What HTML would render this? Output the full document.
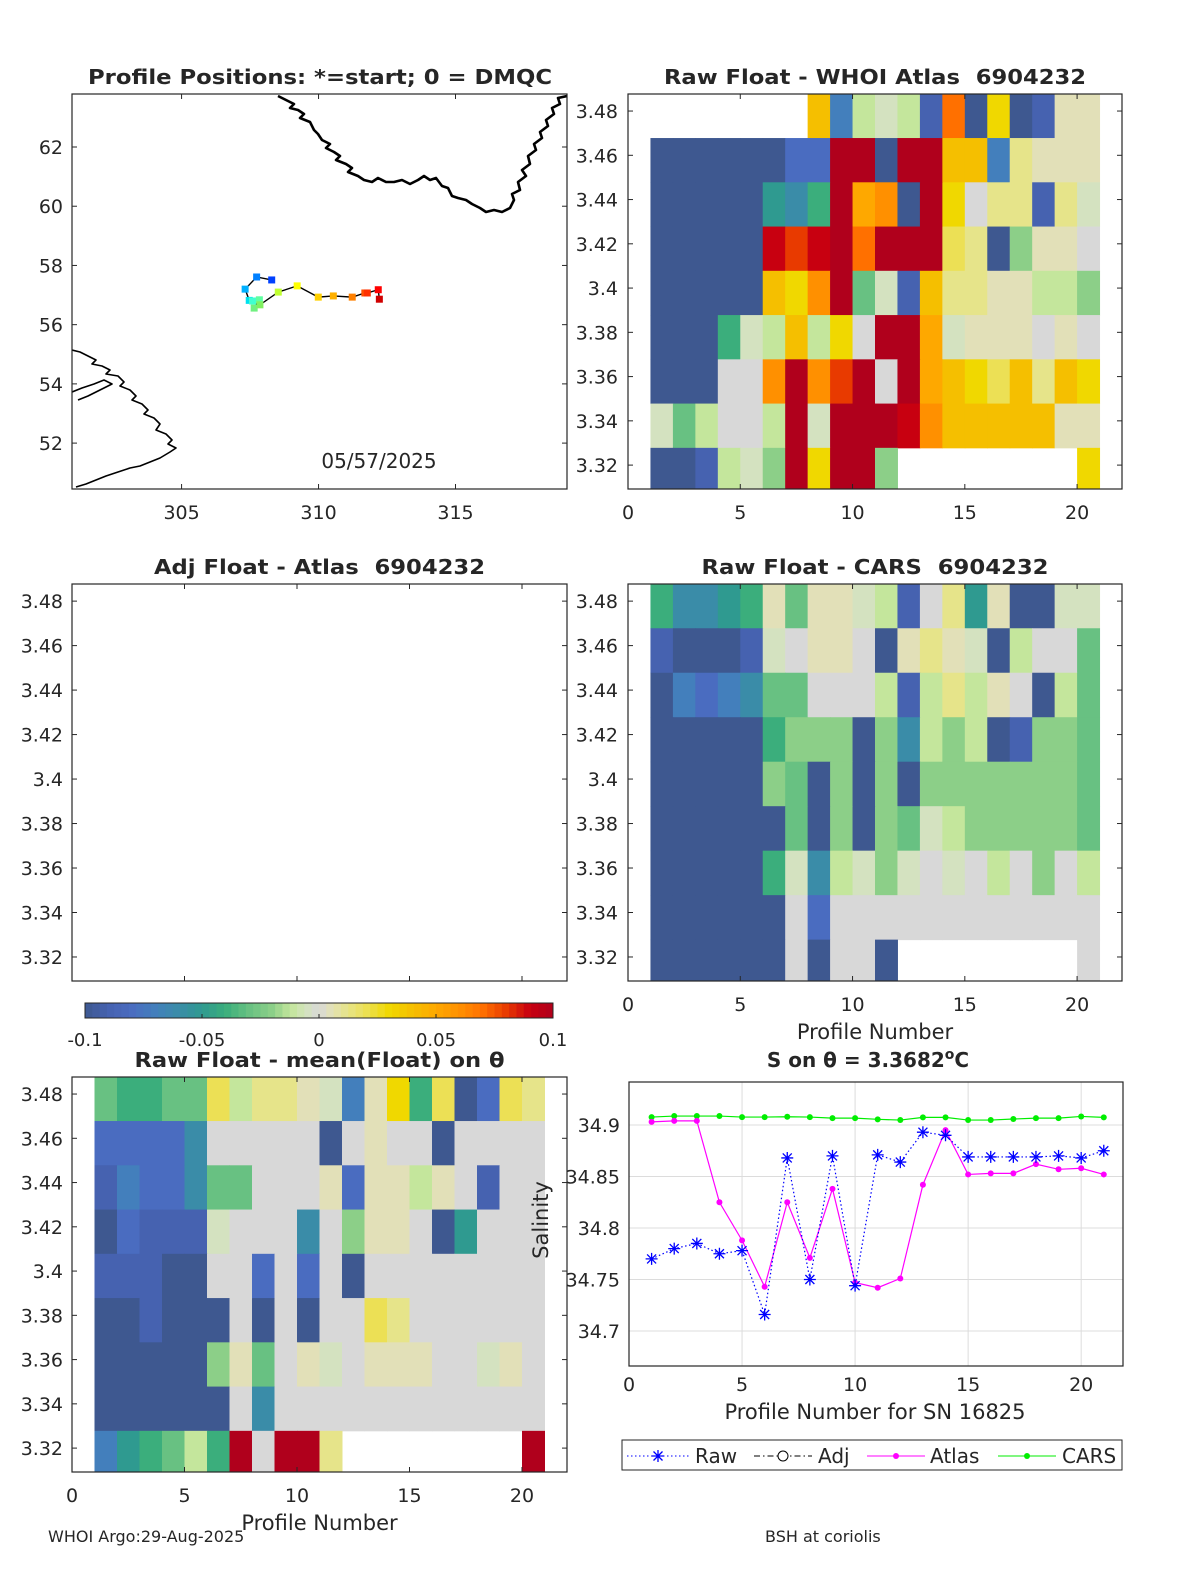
<!DOCTYPE html>
<html><head><meta charset="utf-8"><style>
html,body{margin:0;padding:0;background:#fff;}
svg{display:block;font-family:"DejaVu Sans","Liberation Sans",sans-serif;}
</style></head><body>
<svg id="fig" width="1200" height="1575" viewBox="0 0 1200 1575" xmlns="http://www.w3.org/2000/svg">
<rect x="0" y="0" width="1200" height="1575" fill="#fff"/>
</svg>
<script>
// ---------- DATA ----------
const profileNums = [1,2,3,4,5,6,7,8,9,10,11,12,13,14,15,16,17,18,19,20,21];
const rawSal = [34.770,34.780,34.785,34.775,34.778,34.716,34.868,34.750,34.870,34.744,34.871,34.864,34.893,34.890,34.869,34.869,34.869,34.869,34.870,34.868,34.875];
const atlasSal = [34.903,34.904,34.904,34.825,34.788,34.743,34.825,34.771,34.838,34.747,34.742,34.751,34.842,34.895,34.852,34.853,34.853,34.862,34.857,34.858,34.852];
const carsSal = [34.9077,34.9087,34.9087,34.9087,34.9077,34.9077,34.908,34.9077,34.9067,34.9067,34.9055,34.9048,34.9074,34.9074,34.9048,34.9048,34.9058,34.9067,34.9067,34.9083,34.9074];
const salTicks = [34.7,34.75,34.8,34.85,34.9];
const salTickLabels = ["34.7","34.75","34.8","34.85","34.9"];
const profTicks = [0,5,10,15,20];
const thetaTicks = [3.32,3.34,3.36,3.38,3.40,3.42,3.44,3.46,3.48];
const thetaTickLabels = ["3.32","3.34","3.36","3.38","3.4","3.42","3.44","3.46","3.48"];
const thetaLevels = [3.4778,3.4578,3.4378,3.4178,3.3978,3.3778,3.3578,3.3378,3.3178];
const cbTicks = [-0.1,-0.05,0,0.05,0.1];
const cbTickLabels = ["-0.1","-0.05","0","0.05","0.1"];
// cell codes: A=-0.1 ... L=0 ... W=0.1, '.'=NaN
const codeVals = {A:-0.1,B:-0.09,C:-0.08,D:-0.07,E:-0.06,F:-0.05,G:-0.04,H:-0.03,I:-0.02,J:-0.012,K:-0.005,L:0,M:0.005,N:0.012,O:0.02,P:0.03,Q:0.04,R:0.05,S:0.06,T:0.07,U:0.08,V:0.09,W:0.1};
const atlasRows = [
".......QDJKJBTAPABMM",
"AAAAAACCWWAWWQQDNMMM",
"AAAAAFEGWRSAWPLNNBNK",
"AAAAAVUVWTWWWONAIMML",
"AAAAAQPSWHKBQNNMMJJI",
"AAAGKJQJPLWWRKMMMLML",
"AAALLSWSUWLWRQPOQNQP",
"KHJLLJWKWWWVSQQQQQMM",
"AABJKIWPWWI........P"];
const carsRows = [
"GEEFGMHMMKJBLNFMAAKK",
"BAAABKLMMLAMNMKAJLLH",
"ADCDEHHLLLJBJNJMLAJH",
"AAAAAGIIIAIEJIJABIIH",
"AAAAAIHAIAIAIIIIIIIH",
"AAAAAAHAIAIHKJIIIIIH",
"AAAAAGKEJKIKLKLJLILJ",
"AAAAAALCLLLLLLLLLLLL",
"AAAAAALALLA........L"];
const meanRows = [
"HGGHHOJNNMKDMPGOACON",
"CCCCELLLLLALMLLALLLL",
"BDCCEHHLLLMCMMJMLBLL",
"ACBBBKLLLELIMMLAFLLL",
"BBBAALLCLCLALLLLLLLL",
"AABAAALALALLONLLLLLL",
"AAAAAIMHLMKLMMMLLKML",
"AAAAAALELLLLLLLLLLLL",
"DFGHJGWLWWN........W"];
const trackLon = [308.29,307.74,307.32,307.47,307.59,307.84,307.65,307.86,308.53,309.22,309.99,310.54,311.23,311.69,311.78,312.18,312.22];
const trackLat = [57.51,57.61,57.20,56.82,56.80,56.84,56.56,56.67,57.10,57.31,56.93,56.97,56.93,57.07,57.07,57.18,56.86];
const lonTicks = [305,310,315];
const latTicks = [52,54,56,58,60,62];

// ---------- HELPERS ----------
const NS='http://www.w3.org/2000/svg';
const svg=document.getElementById('fig');
function mk(tag,attrs,parent){const e=document.createElementNS(NS,tag);for(const k in attrs)e.setAttribute(k,attrs[k]);(parent||svg).appendChild(e);return e;}
function txt(s,x,y,size,anchor,weight,parent){const t=mk('text',{x:x,y:y,'font-size':size,'text-anchor':anchor||'middle','font-weight':weight||'normal',fill:'#262626'},parent);t.textContent=s;return t;}
function decode(rows){return rows.map(r=>r.split('').map(ch=>ch==='.'?NaN:codeVals[ch]));}
const stops=[[-0.1,[62,88,144]],[-0.09,[70,98,176]],[-0.08,[74,108,192]],[-0.07,[67,127,188]],[-0.06,[58,140,168]],[-0.05,[47,154,144]],[-0.04,[59,174,124]],[-0.03,[104,193,130]],[-0.02,[140,207,136]],[-0.012,[196,230,156]],[-0.005,[212,226,192]],[0,[216,216,216]],[0.005,[226,224,184]],[0.012,[230,228,138]],[0.02,[236,224,85]],[0.03,[240,216,0]],[0.04,[245,191,0]],[0.05,[254,168,0]],[0.06,[255,144,0]],[0.07,[255,112,0]],[0.08,[232,58,0]],[0.09,[200,0,16]],[0.1,[176,0,28]]];
function cmap(v){if(v<=stops[0][0])return 'rgb('+stops[0][1]+')';for(let i=1;i<stops.length;i++){if(v<=stops[i][0]){const a=stops[i-1],b=stops[i];const t=(v-a[0])/(b[0]-a[0]);const c=a[1].map((q,j)=>Math.round(q+(b[1][j]-q)*t));return 'rgb('+c+')';}}return 'rgb('+stops[stops.length-1][1]+')';}
function lin(d0,d1,r0,r1){return v=>r0+(v-d0)/(d1-d0)*(r1-r0);}
const TICK=19;

// ---------- HEATMAP PANELS ----------
function heatPanel(name,box,rows,title,titleW,yLabelX,showXLabel){
  const g=mk('g',{});
  
  
  const xs=lin(0,22,box.x0,box.x1);
  const ys=lin(3.3092,3.4877,box.y1,box.y0);
  if(rows){
    const vals=decode(rows);
    vals.forEach((row,r)=>row.forEach((v,c)=>{
      if(isNaN(v))return;
      const x0=xs(profileNums[c]),x1=xs(profileNums[c]+1);
      let yt=ys(thetaLevels[r]+0.01),yb=ys(thetaLevels[r]-0.01);
      yt=Math.max(yt,box.y0);yb=Math.min(yb,box.y1);
      const cell=mk('rect',{x:x0,y:yt,width:x1-x0+0.5,height:yb-yt+0.5,fill:cmap(v)},g);
      
      
    }));
  }
  const frame=mk('rect',{x:box.x0,y:box.y0,width:box.x1-box.x0,height:box.y1-box.y0,fill:'none',stroke:'#262626','stroke-width':1.2},g);
  
  
  thetaTicks.forEach((t,i)=>{
    const y=ys(t);
    mk('line',{x1:box.x0,x2:box.x0+5,y1:y,y2:y,stroke:'#262626'},g);
    mk('line',{x1:box.x1,x2:box.x1-5,y1:y,y2:y,stroke:'#262626'},g);
    const l=txt(thetaTickLabels[i],yLabelX,y+7,TICK,'end','normal',g);
    
    
  });
  profTicks.forEach(t=>{
    const x=xs(t);
    mk('line',{x1:x,x2:x,y1:box.y1,y2:box.y1-5,stroke:'#262626'},g);
    mk('line',{x1:x,x2:x,y1:box.y0,y2:box.y0+5,stroke:'#262626'},g);
    if(showXLabel!==null){const l=txt(String(t),x,box.y1+30,TICK,'middle','normal',g);
    
    }
  });
  const tt=txt(title,(box.x0+box.x1)/2,box.y0-10,20,'middle','bold',g);
  tt.setAttribute('textLength',titleW);
  tt.setAttribute('lengthAdjust','spacingAndGlyphs');
  
  
  if(showXLabel){const xl=txt('Profile Number',(box.x0+box.x1)/2,box.y1+58,21,'middle','normal',g);
    
    }
  return g;
}
heatPanel('atlas-heatmap',{x0:628,x1:1122,y0:94,y1:489},atlasRows,'Raw Float - WHOI Atlas\u00A0\u00A06904232',422,618,false);
heatPanel('adj-atlas-panel',{x0:72,x1:567,y0:584,y1:981},null,'Adj Float - Atlas\u00A0\u00A06904232',331,63,null);
heatPanel('cars-heatmap',{x0:628,x1:1122,y0:584,y1:981},carsRows,'Raw Float - CARS\u00A0\u00A06904232',347,618,true);
heatPanel('mean-heatmap',{x0:72,x1:567,y0:1077,y1:1472},meanRows,'Raw Float - mean(Float) on \u03B8',370,63,true);

// ---------- COLORBAR ----------
(function(){
  const g=mk('g',{});
  
  
  const cx=lin(-0.1,0.1,85,553);
  const n=64;
  for(let i=0;i<n;i++){
    const v=-0.1+0.2*(i+0.5)/n;
    const x0=cx(-0.1+0.2*i/n),x1=cx(-0.1+0.2*(i+1)/n);
    mk('rect',{x:x0,y:1003,width:x1-x0+0.4,height:15,fill:cmap(v)},g);
  }
  mk('rect',{x:85,y:1003,width:468,height:15,fill:'none',stroke:'#262626'},g);
  cbTicks.forEach((t,i)=>{
    const x=cx(t);
    mk('line',{x1:x,x2:x,y1:1018,y2:1014,stroke:'#262626'},g);
    const l=txt(cbTickLabels[i],x,1046,18,'middle','normal',g);
    
    
  });
})();

// ---------- MAP ----------
(function(){
  const g=mk('g',{});
  
  
  const box={x0:72,x1:567,y0:94,y1:489};
  const xs=lin(301,319.07,box.x0,box.x1);
  const ys=lin(50.45,63.79,box.y1,box.y0);
  mk('clipPath',{id:'mapclip'},g).appendChild(document.createElementNS(NS,'rect'));
  const cp=g.querySelector('#mapclip rect');cp.setAttribute('x',box.x0);cp.setAttribute('y',box.y0);cp.setAttribute('width',box.x1-box.x0);cp.setAttribute('height',box.y1-box.y0);
  const greenland="278,96 286,100 294,104 290,108 298,110 304,114 300,118 310,122 314,130 318,134 322,140 330,144 326,148 334,152 340,156 336,160 346,164 352,168 348,172 358,176 364,180 372,182 378,178 386,182 394,182 402,180 410,184 418,180 424,176 430,180 436,178 442,186 448,188 452,196 458,198 466,200 472,204 480,208 486,212 494,210 502,212 510,208 514,200 512,194 520,190 518,182 526,176 522,170 530,164 528,156 536,150 534,144 542,138 540,132 548,126 546,120 554,114 552,108 560,104 558,98 567,96";
  const cg=mk('polyline',{points:greenland,fill:'none',stroke:'#000','stroke-width':2.6,'stroke-linejoin':'round','clip-path':'url(#mapclip)'},g);
  
  
  const lab1="72,350 80,352 88,356 96,360 92,364 102,366 110,370 106,374 118,376 124,382 120,386 130,390 136,396 132,400 142,404 148,410 144,414 154,418 160,424 156,430 166,434 172,440 168,444 176,448 170,452 160,458 150,462 140,466 130,468 118,472 106,476 96,480 86,484 76,487";
  const lab2="72,392 82,388 94,384 104,380 112,384 100,390 88,396 78,400";
  [lab1,lab2].forEach(p=>{const c=mk('polyline',{points:p,fill:'none',stroke:'#000','stroke-width':1.6,'stroke-linejoin':'round','clip-path':'url(#mapclip)'},g);
    
    });
  const pts=trackLon.map((lo,i)=>[xs(lo),ys(trackLat[i])]);
  const tr=mk('polyline',{points:pts.map(p=>p.join(',')).join(' '),fill:'none',stroke:'#000','stroke-width':1.4},g);
  
  
  const jet=['#0040ff','#0080ff','#00b0ff','#00e0f0','#40ffd0','#60ffa0','#70f080','#80f060','#c0ff30','#ffff00','#ffd000','#ffb000','#ff8000','#ff5000','#ff3000','#ff0000','#d00000'];
  pts.forEach((p,i)=>{
    const m=mk('rect',{x:p[0]-3.5,y:p[1]-3.5,width:7,height:7,fill:jet[i]},g);
    
    
  });
  mk('rect',{x:box.x0,y:box.y0,width:box.x1-box.x0,height:box.y1-box.y0,fill:'none',stroke:'#262626','stroke-width':1.2},g);
  lonTicks.forEach(t=>{const x=xs(t);
    mk('line',{x1:x,x2:x,y1:box.y1,y2:box.y1-5,stroke:'#262626'},g);
    mk('line',{x1:x,x2:x,y1:box.y0,y2:box.y0+5,stroke:'#262626'},g);
    const l=txt(String(t),x,box.y1+30,TICK,'middle','normal',g);
    
    });
  latTicks.forEach(t=>{const y=ys(t);
    mk('line',{x1:box.x0,x2:box.x0+5,y1:y,y2:y,stroke:'#262626'},g);
    mk('line',{x1:box.x1,x2:box.x1-5,y1:y,y2:y,stroke:'#262626'},g);
    const l=txt(String(t),63,y+7,TICK,'end','normal',g);
    
    });
  const d=txt('05/57/2025',379,468,20,'middle','normal',g);
  
  
  const t=txt('Profile Positions: *=start; 0 = DMQC',320,84,20,'middle','bold',g);
  t.setAttribute('textLength',464);
  t.setAttribute('lengthAdjust','spacingAndGlyphs');
  
  
})();

// ---------- SALINITY LINE CHART ----------
(function(){
  const g=mk('g',{});
  
  
  const box={x0:629,x1:1123,y0:1082,y1:1366};
  const xs=lin(0,21.85,box.x0,box.x1);
  const ys=lin(34.7,34.9,1331,1125);
  mk('rect',{x:box.x0,y:box.y0,width:box.x1-box.x0,height:box.y1-box.y0,fill:'#fff'},g);
  profTicks.forEach(t=>{const x=xs(t);
    if(t>0)mk('line',{x1:x,x2:x,y1:box.y0,y2:box.y1,stroke:'#dcdcdc'},g);
    const l=txt(String(t),x,box.y1+25,TICK,'middle','normal',g);
    
    });
  salTicks.forEach((t,i)=>{const y=ys(t);
    mk('line',{x1:box.x0,x2:box.x1,y1:y,y2:y,stroke:'#dcdcdc'},g);
    const l=txt(salTickLabels[i],620,y+7,TICK,'end','normal',g);
    
    });
  mk('rect',{x:box.x0,y:box.y0,width:box.x1-box.x0,height:box.y1-box.y0,fill:'none',stroke:'#262626','stroke-width':1.2},g);
  function line(vals,color,dash,name){
    const p=mk('polyline',{points:vals.map((v,i)=>xs(profileNums[i])+','+ys(v)).join(' '),fill:'none',stroke:color,'stroke-width':1.2,'stroke-dasharray':dash||'none'},g);
    
    
  }
  line(carsSal,'#00ee00',null,'cars-line');
  carsSal.forEach((v,i)=>{const c=mk('circle',{cx:xs(profileNums[i]),cy:ys(v),r:3,fill:'#00ee00'},g);
    
    });
  line(atlasSal,'#ff00ff',null,'atlas-line');
  atlasSal.forEach((v,i)=>{const c=mk('circle',{cx:xs(profileNums[i]),cy:ys(v),r:3,fill:'#ff00ff'},g);
    
    });
  line(rawSal,'#0000ff','1.5,2.5','raw-line');
  rawSal.forEach((v,i)=>{const x=xs(profileNums[i]),y=ys(v);
    const s=mk('path',{d:`M${x-6},${y}H${x+6}M${x},${y-6}V${y+6}M${x-4.5},${y-4.5}L${x+4.5},${y+4.5}M${x-4.5},${y+4.5}L${x+4.5},${y-4.5}`,stroke:'#0000ff','stroke-width':1.3},g);
    
    });
  const t=txt('S on \u03B8 = 3.3682',868,1067,20,'middle','bold',g);
  const sup=mk('tspan',{dy:-8,'font-size':14},t);sup.textContent='o';
  const cc=mk('tspan',{dy:8},t);cc.textContent='C';
  
  
  const xl=txt('Profile Number for SN 16825',875,1419,21,'middle','normal',g);
  
  
  const yl=txt('Salinity',0,0,21,'middle','normal',g);
  yl.setAttribute('transform','translate(548,1220) rotate(-90)');
  
  
  // legend
  const lg=mk('g',{},g);
  
  
  mk('rect',{x:622,y:1440,width:500,height:30,fill:'#fff',stroke:'#262626'},lg);
  mk('line',{x1:627,x2:690,y1:1456,y2:1456,stroke:'#0000ff','stroke-dasharray':'1.5,2.5'},lg);
  mk('path',{d:'M652,1456H664M658,1450V1462M653.5,1451.5L662.5,1460.5M653.5,1460.5L662.5,1451.5',stroke:'#0000ff','stroke-width':1.3},lg);
  const e1=txt('Raw',695,1463,20,'start','normal',lg);
  
  
  mk('line',{x1:754,x2:812,y1:1456,y2:1456,stroke:'#000','stroke-dasharray':'6,3,1.5,3'},lg);
  mk('circle',{cx:783,cy:1456,r:5,fill:'#fff',stroke:'#000'},lg);
  const e2=txt('Adj',818,1463,20,'start','normal',lg);
  
  
  mk('line',{x1:867,x2:925,y1:1456,y2:1456,stroke:'#ff00ff'},lg);
  mk('circle',{cx:896,cy:1456,r:3,fill:'#ff00ff'},lg);
  const e3=txt('Atlas',930,1463,20,'start','normal',lg);
  
  
  mk('line',{x1:998,x2:1056,y1:1456,y2:1456,stroke:'#00ee00'},lg);
  mk('circle',{cx:1027,cy:1456,r:3,fill:'#00ee00'},lg);
  const e4=txt('CARS',1062,1463,20,'start','normal',lg);
  
  
})();

// ---------- FOOTER ----------
const f1=txt('WHOI Argo:29-Aug-2025',48,1542,16,'start');


const f2=txt('BSH at coriolis',765,1542,16,'start');


</script>
</body></html>
